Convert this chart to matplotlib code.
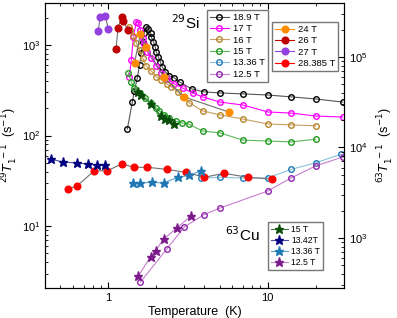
import matplotlib.pyplot as plt
from matplotlib.lines import Line2D

# 29Si data, open circles (left axis)
T_189 = [1.317, 1.415, 1.457, 1.52, 1.57, 1.61, 1.66, 1.68, 1.73, 1.78, 1.84, 1.86, 1.92, 1.97, 2.0,
         2.06, 2.12, 2.18, 2.28, 2.42, 2.60, 2.80, 3.33, 4.0, 5.0, 7.0, 10.0, 14.0, 20.0, 29.5]
R_189 = [118, 234, 310, 432, 601, 816, 1079, 1357, 1580, 1502, 1357, 1225, 1079, 951, 837,
         737, 649, 571, 503, 454, 432, 390, 327, 303, 295, 288, 280, 267, 253, 234]
T_17 = [1.355, 1.395, 1.436, 1.50, 1.545, 1.59, 1.64, 1.68, 1.76, 1.86, 2.0, 2.15, 2.35, 2.60,
        2.92, 3.38, 3.9, 5.0, 7.0, 10.0, 14.0, 20.0, 29.5]
R_17 = [443, 683, 1225, 1795, 1750, 1465, 1195, 1025, 837, 719, 586, 490, 421, 371,
        335, 295, 267, 234, 217, 182, 177, 164, 160]
T_16 = [1.355, 1.375, 1.436, 1.50, 1.57, 1.64, 1.73, 1.86, 2.0, 2.15, 2.32, 2.49, 2.72, 2.96,
        3.23, 3.9, 5.0, 7.0, 10.0, 14.0, 20.0]
R_16 = [1580, 1465, 1257, 1052, 881, 719, 586, 516, 443, 410, 371, 344, 303, 267,
        229, 187, 169, 152, 134, 131, 128]
T_15 = [1.336, 1.395, 1.457, 1.57, 1.71, 1.86, 2.0, 2.09, 2.25, 2.42, 2.64, 2.88, 3.19,
        3.9, 5.0, 7.0, 10.0, 14.0, 20.0]
R_15 = [490, 390, 335, 295, 260, 229, 201, 187, 169, 156, 144, 138, 134,
        112, 107, 89, 87, 85, 91]
T_1336 = [3.84, 5.0, 7.0, 10.0, 14.0, 20.0, 28.8]
R_1336 = [34, 34.6, 34, 34, 42.3, 50, 62]
T_125 = [1.59, 2.32, 3.0, 3.96, 5.0, 10.0, 14.0, 20.0, 29.6]
R_125 = [2.41, 5.56, 9.8, 13.3, 15.8, 24.4, 34, 46.2, 58]

# 29Si data, filled circles (left axis)
T_24 = [1.46, 1.59, 1.73, 2.22, 3.0, 5.68]
R_24 = [632, 1323, 950, 443, 266, 182]
T_26 = [1.118, 1.15, 1.21, 1.24, 1.32]
R_26 = [905, 1540, 2020, 1840, 1465]
T_27 = [0.865, 0.89, 0.957, 1.0]
R_27 = [1430, 2040, 2090, 1500]
T_28 = [0.56, 0.638, 0.817, 0.986, 1.21, 1.457, 1.76, 2.32, 3.05, 4.01, 5.29, 7.5, 10.6]
R_28 = [25.7, 27.9, 40.8, 40.8, 48.5, 44.6, 44.6, 42.3, 39.3, 34.6, 38.3, 34.6, 33.0]

# 63Cu data, stars (right axis)
T_cu15 = [1.545, 1.61, 1.86, 2.15, 2.28, 2.42, 2.57]
R_cu15 = [40900, 37800, 30100, 22100, 20500, 20000, 18100]
T_cu1342 = [0.438, 0.521, 0.638, 0.749, 0.853, 0.957]
R_cu1342 = [7430, 6890, 6750, 6550, 6370, 6370]
T_cu1336 = [1.436, 1.57, 1.89, 2.22, 2.72, 3.23, 3.79]
R_cu1336 = [4050, 4050, 4130, 4050, 4670, 4940, 5510]
T_cu125 = [1.545, 1.84, 1.98, 2.22, 2.68, 3.28]
R_cu125 = [381, 621, 725, 972, 1283, 1742]

plt.rcParams['font.family'] = ['Liberation Sans', 'DejaVu Sans']

fig = plt.figure(figsize=(3.97, 3.18), dpi=100)
ax = fig.add_axes([0.113, 0.094, 0.753, 0.897])
ax2 = ax.twinx()

open_kw = dict(marker='o', ms=4.0, mfc='none', mew=1.0, lw=0.8)
full_kw = dict(marker='o', ms=4.8, lw=0.8)
star_kw = dict(marker='*', ms=6.5, lw=0.8)

h_open = []
for T, R, c, lc, lab in [(T_189, R_189, 'black', '#555555', '18.9 T'),
                         (T_17, R_17, '#ff00ff', '#ff00ff', '17 T'),
                         (T_16, R_16, '#b8862b', '#c8a060', '16 T'),
                         (T_15, R_15, '#1e9a1e', '#5cb85c', '15 T'),
                         (T_1336, R_1336, '#1f78b4', '#8cc0e0', '13.36 T'),
                         (T_125, R_125, '#8e24aa', '#c77fd0', '12.5 T')]:
    ax.plot(T, R, color=lc, mec=c, **open_kw)
    h_open.append(Line2D([], [], color=lc, mec=c, label=lab, **open_kw))

h_full = []
for T, R, c, lc, lab in [(T_24, R_24, '#ff8c00', '#707070', '24 T'),
                         (T_26, R_26, '#c00000', '#707070', '26 T'),
                         (T_27, R_27, '#9440e0', '#707070', '27 T'),
                         (T_28, R_28, '#ff0000', '#707070', '28.385 T')]:
    ax.plot(T, R, color=lc, mfc=c, mec=c, **full_kw)
    h_full.append(Line2D([], [], color=c, mfc=c, mec=c, label=lab, **full_kw))

h_cu = []
for T, R, c, lc, lab in [(T_cu15, R_cu15, '#0b4d0b', '#3a7a3a', '15 T'),
                         (T_cu1342, R_cu1342, '#000080', '#5050a0', '13.42T'),
                         (T_cu1336, R_cu1336, '#1f78b4', '#5aa0d0', '13.36 T'),
                         (T_cu125, R_cu125, '#7b1a8a', '#c77fd0', '12.5 T')]:
    ax2.plot(T, R, color=lc, mfc=c, mec=c, **star_kw)
    h_cu.append(Line2D([], [], color=lc, mfc=c, mec=c, label=lab, **star_kw))

ax.set_xscale('log')
ax.set_yscale('log')
ax2.set_yscale('log')
ax.set_xlim(0.4, 30)
ax.set_ylim(2.07, 2911)
ax2.set_ylim(280, 3.95e5)

ax.tick_params(which='both', direction='in', top=True, labelsize=8)
ax.tick_params(which='major', length=4)
ax.tick_params(which='minor', length=2)
ax2.tick_params(which='both', direction='in', labelsize=8)
ax2.tick_params(which='major', length=4)
ax2.tick_params(which='minor', length=2)
ax.set_xticks([1, 10])
ax.set_xticklabels(['1', '10'])

ax.set_xlabel('Temperature  (K)', fontsize=9, labelpad=2)
ax.set_ylabel(r'$^{29}T_1^{\ -1}$  (s$^{-1}$)', fontsize=9, labelpad=1)
ax2.set_ylabel(r'$^{63}T_1^{\ -1}$  (s$^{-1}$)', fontsize=9, labelpad=6)

ax.text(0.47, 0.93, r'$^{29}$Si', transform=ax.transAxes, fontsize=11, ha='center', va='center')
ax.text(0.662, 0.186, r'$^{63}$Cu', transform=ax.transAxes, fontsize=11, ha='center', va='center')

leg_kw = dict(fontsize=6.8, frameon=True, fancybox=False, edgecolor='#555555',
              handlelength=2.0, handletextpad=0.4, borderpad=0.35, labelspacing=0.25,
              borderaxespad=0)
l1 = ax2.legend(handles=h_open, loc='upper left', bbox_to_anchor=(0.541, 0.976), **leg_kw)
ax2.add_artist(l1)
l2 = ax2.legend(handles=h_full, loc='upper left', bbox_to_anchor=(0.759, 0.934), **leg_kw)
ax2.add_artist(l2)
leg_kw3 = dict(leg_kw, fontsize=6.2)
ax2.legend(handles=h_cu, loc='upper left', bbox_to_anchor=(0.745, 0.232), **leg_kw3)

fig.savefig('out.png', dpi=100)
